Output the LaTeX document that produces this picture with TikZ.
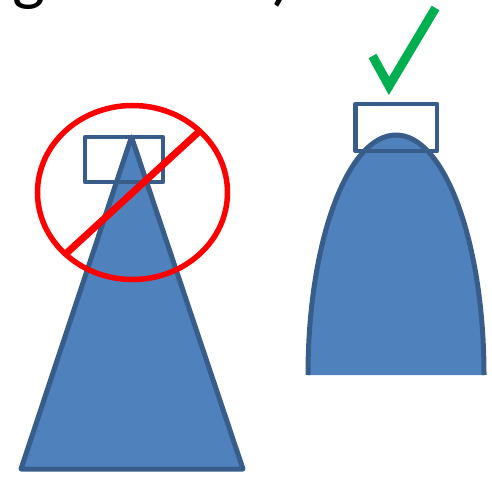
\documentclass[tikz,border=0pt]{standalone}
\usepackage{fontspec}
\setmainfont{Carlito}
\definecolor{shapefill}{HTML}{4F81BD}
\definecolor{shapeline}{HTML}{385D8A}
\definecolor{nored}{HTML}{FF0000}
\definecolor{okgreen}{HTML}{00B050}
\begin{document}
\begin{tikzpicture}[x=1pt,y=1pt,
  shapestyle/.style={fill=shapefill,draw=shapeline,line width=5pt,line join=round},
  camstyle/.style={draw=shapeline,line width=4.8pt,line join=round},
  forbid/.style={draw=nored,line width=5.5pt},
  slash/.style={draw=nored,line width=7pt},
  tick/.style={draw=okgreen,line width=9pt,line join=miter}]
\useasboundingbox (0,0) rectangle (492,477);
\clip (0,0) rectangle (492,477);
% title fragment
\node[anchor=base west,inner sep=0pt,font=\fontsize{70}{84}\selectfont] (title) at (12,479) {\llap{in}g devices)};
% left: cone
\path[shapestyle] (131.5,340) -- (21,8) -- (243,8) -- cycle;
\path[camstyle] (85,295) rectangle (163,340);
\draw[forbid] (132.5,284.5) ellipse[x radius=95,y radius=87];
\draw[slash] (66.7,224) -- (200,346.3);
% right: rounded beam
\fill[shapefill] (308,102) arc[start angle=180,end angle=0,x radius=88,y radius=240] -- cycle;
\draw[draw=shapeline,line width=5pt] (308,102) arc[start angle=180,end angle=0,x radius=88,y radius=240];
\path[camstyle] (355.5,326) rectangle (437,373);
\draw[tick] (372.5,421) -- (389,391) -- (435.5,469);
\end{tikzpicture}
\end{document}
